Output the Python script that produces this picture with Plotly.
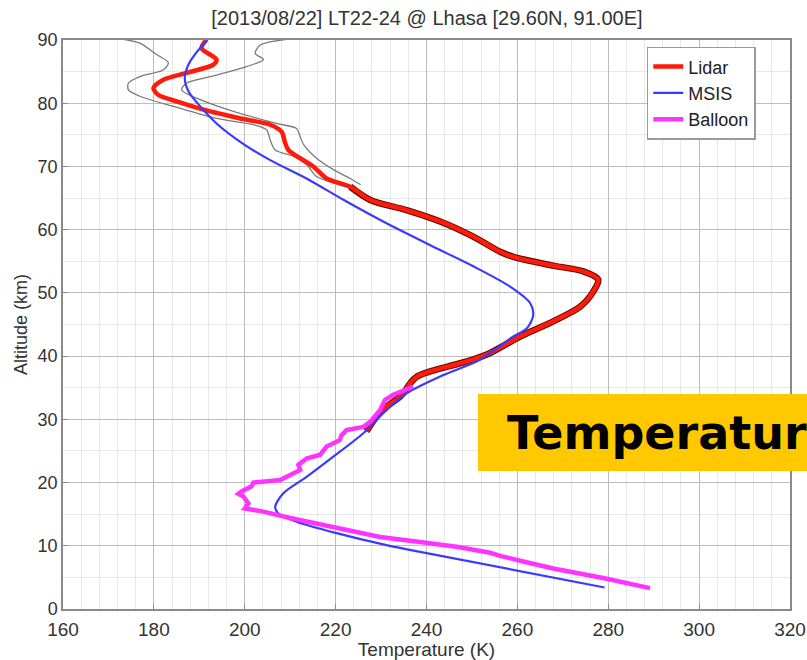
import plotly.graph_objects as go

# ---------------- data ----------------
lidar_alt = [90.0, 88.7, 86.9, 86.1, 84.8, 83.7, 82.4, 81.3, 80.3, 78.7, 77.5, 76.6, 75.5, 73.7,
             72.6, 71.3, 70.0, 68.1, 66.8, 64.7, 63.1, 61.3, 58.9, 56.5, 55.7, 54.4, 53.4, 52.1,
             50.2, 47.8, 45.5, 43.1, 40.5, 39.4, 38.4, 37.5, 36.8, 35.7, 34.5, 33.6, 32.0, 30.4, 28.1]
lidar_T = [191.5, 190.5, 193.8, 193.1, 187.2, 182.1, 179.9, 181.0, 185.0, 192.4, 199.7, 205.6, 208.1, 208.9,
           209.6, 212.2, 215.1, 218.0, 223.2, 227.6, 235.6, 243.0, 250.3, 256.2, 259.1, 267.2, 274.5, 277.8,
           276.7, 273.8, 267.9, 260.6, 254.0, 250.0, 245.0, 240.5, 238.0, 236.4, 235.3, 234.2, 231.2, 229.0, 226.8]

lidar_lo_alt = [90.1, 89.5, 87.7, 86.4, 85.3, 84.2, 83.2, 82.1, 81.1, 79.5, 77.6, 76.6, 75.8, 74.2,
                72.6, 71.6, 70.3, 68.4, 67.4, 66.6]
lidar_lo_T = [173.3, 176.9, 180.6, 183.2, 182.1, 176.9, 174.4, 174.4, 176.9, 184.3, 193.8, 201.9, 204.8, 205.6,
              206.7, 210.7, 213.6, 215.8, 219.5, 223.0]
lidar_hi_alt = [90.1, 89.2, 87.9, 86.9, 85.8, 84.2, 83.2, 82.1, 80.8, 78.7, 76.8, 76.0, 74.7, 73.4,
                71.3, 69.5, 68.1, 67.1]
lidar_hi_T = [209.2, 203.4, 202.3, 204.1, 200.4, 192.4, 187.2, 186.1, 189.4, 197.5, 207.0, 211.4, 212.2, 213.0,
              215.8, 219.5, 223.2, 225.5]

msis_alt = [90.0, 87.7, 85.8, 84.0, 81.9, 79.5, 76.8, 73.9, 71.0, 68.1, 64.6, 61.0, 57.3, 54.2, 51.0, 48.4,
            46.5, 44.4, 43.1, 39.3, 37.0, 34.1, 31.0, 27.8, 24.1, 20.9, 18.3, 16.2, 15.1, 13.8, 12.0, 10.1,
            9.4, 3.4]
msis_T = [191.8, 189.0, 187.4, 186.8, 187.6, 190.2, 193.8, 199.0, 205.6, 213.6, 222.0, 231.2, 241.5, 250.3,
          258.4, 262.8, 263.5, 262.1, 259.1, 251.4, 243.7, 235.6, 230.5, 226.1, 219.5, 213.6, 208.5, 206.7,
          207.4, 211.4, 220.2, 231.2, 236.0, 279.2]

balloon_alt = [35.2, 33.9, 33.1, 31.5, 29.6, 28.8, 28.3, 27.5, 26.7, 25.7, 24.4, 23.8, 22.8, 22.0, 21.2,
               20.4, 20.0, 19.4, 18.6, 18.2, 17.8, 16.7, 15.9, 15.4, 14.4, 13.0, 11.4, 10.6, 9.8, 8.9,
               8.4, 7.4, 6.4, 4.9, 3.3]
balloon_T = [237.1, 232.7, 230.9, 229.8, 227.6, 226.1, 222.4, 221.3, 220.9, 218.0, 216.6, 213.6, 211.8,
             212.2, 210.0, 207.8, 201.9, 201.5, 199.3, 198.6, 199.7, 200.8, 200.0, 204.1, 210.0, 218.8,
             229.8, 238.6, 247.0, 254.0, 256.2, 262.0, 267.9, 278.9, 289.2]

title_text = "[2013/08/22] LT22-24 @ Lhasa [29.60N, 91.00E]"
x_ticks = [160, 180, 200, 220, 240, 260, 280, 300, 320]
y_ticks = [0, 10, 20, 30, 40, 50, 60, 70, 80, 90]
banner_text = "Temperatur"

# ---------------- figure ----------------
fig = go.Figure()

for xs, ys in ((lidar_lo_T, lidar_lo_alt), (lidar_hi_T, lidar_hi_alt)):
    fig.add_trace(go.Scatter(x=xs, y=ys, mode="lines", showlegend=False, hoverinfo="skip",
                             line=dict(color="#7a7a7a", width=1.3, shape="spline", smoothing=0.8)))

# dark edges where the error bounds merge with the lidar curve
sub_T = [t for t, a in zip(lidar_T, lidar_alt) if a <= 67.5]
sub_a = [a for a in lidar_alt if a <= 67.5]
fig.add_trace(go.Scatter(x=sub_T, y=sub_a, mode="lines", showlegend=False, hoverinfo="skip",
                         line=dict(color="#5a0c00", width=6.5, shape="spline", smoothing=0.8)))

fig.add_trace(go.Scatter(x=lidar_T, y=lidar_alt, mode="lines", name="Lidar",
                         line=dict(color="#ff1a0a", width=4.5, shape="spline", smoothing=0.8)))
fig.add_trace(go.Scatter(x=msis_T, y=msis_alt, mode="lines", name="MSIS",
                         line=dict(color="#3a3aff", width=2.2, shape="spline", smoothing=0.8)))
fig.add_trace(go.Scatter(x=balloon_T, y=balloon_alt, mode="lines", name="Balloon",
                         line=dict(color="#ff33ff", width=4.5)))

font_main = "Liberation Sans, Arial, sans-serif"

fig.update_layout(
    width=807, height=660,
    margin=dict(l=63, r=17, t=40, b=51, autoexpand=False),
    paper_bgcolor="white", plot_bgcolor="white",
    title=dict(text=title_text, x=0.529, xanchor="center", y=0.973, yanchor="middle",
               font=dict(family=font_main, size=20, color="#333333")),
    font=dict(family=font_main, color="#333333"),
    legend=dict(x=0.803, y=0.988, xanchor="left", yanchor="top",
                bgcolor="white", bordercolor="#9a9a9a", borderwidth=1.5,
                font=dict(family=font_main, size=18, color="#222222"),
                tracegroupgap=0),
    showlegend=True,
)

fig.update_xaxes(
    range=[160, 320], tickmode="array", tickvals=x_ticks, ticktext=[str(v) for v in x_ticks],
    showgrid=True, gridcolor="#bdbdbd", gridwidth=1.3,
    minor=dict(dtick=4, tick0=160, showgrid=True, gridcolor="#e8e8e8", gridwidth=1),
    showline=True, linecolor="#8a8a8a", linewidth=1.5, mirror=True,
    ticks="inside", ticklen=5, tickcolor="#8a8a8a", ticklabelstandoff=2,
    tickfont=dict(family=font_main, size=19, color="#333333"),
    title=dict(text="Temperature (K)", font=dict(family=font_main, size=19, color="#333333"), standoff=1),
    zeroline=False, automargin=False,
)
fig.update_yaxes(
    range=[0, 90], tickmode="array", tickvals=y_ticks, ticktext=[str(v) for v in y_ticks],
    showgrid=True, gridcolor="#bdbdbd", gridwidth=1.3,
    minor=dict(dtick=5, tick0=0, showgrid=True, gridcolor="#e8e8e8", gridwidth=1),
    showline=True, linecolor="#8a8a8a", linewidth=1.5, mirror=True,
    ticks="inside", ticklen=5, tickcolor="#8a8a8a",
    tickfont=dict(family=font_main, size=18, color="#333333"),
    title=dict(text="Altitude (km)", font=dict(family=font_main, size=18, color="#333333"), standoff=5),
    zeroline=False, automargin=False,
)

# yellow banner
fig.add_shape(type="rect", xref="paper", yref="paper",
              x0=0.5708, x1=1.05, y0=0.2425, y1=0.3779,
              fillcolor="#ffc800", line=dict(width=0), layer="above")
fig.add_annotation(text="<b>" + banner_text + "</b>", xref="x", yref="y",
                   x=257.3, y=27.9, xanchor="left", yanchor="middle", showarrow=False,
                   font=dict(family="DejaVu Sans, Verdana, sans-serif", size=46, color="black"))

fig.write_html("out.html")
